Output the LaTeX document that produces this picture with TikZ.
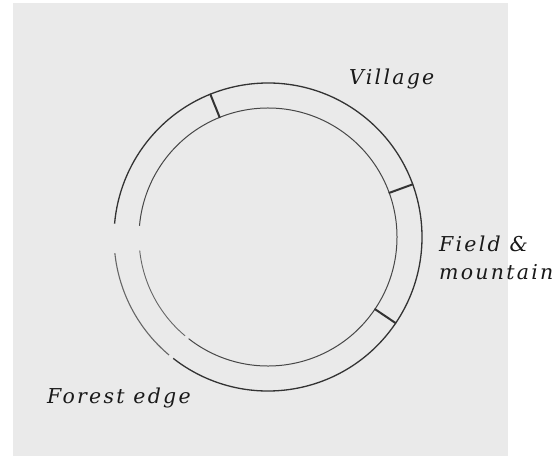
\documentclass[tikz,border=0pt]{standalone}
\usepackage{fontspec}
\newfontfamily\placefont[LetterSpace=11]{DejaVu Serif}
\definecolor{paper}{HTML}{EAEAEA}
\definecolor{pencil}{HTML}{333333}

\begin{document}
\begin{tikzpicture}[x=1pt, y=1pt,
        ring/.style={draw=pencil, line width=1.3pt},
        faintring/.style={draw=pencil!75, line width=1.1pt},
        innerring/.style={draw=pencil!90, line width=1pt},
        divider/.style={draw=pencil, line width=2pt},
        place/.style={font=\placefont\itshape\fontsize{20.5}{24}\selectfont,
            text=black!90, inner sep=0pt, anchor=base west}]
        % Paper
        \useasboundingbox (0,0) rectangle (557,459);
        \fill[paper] (13,3) rectangle (508,456);

        % Centre of both rings
        \coordinate (C) at (268,222);

        % Outer ring, open on the left
        \draw[faintring] (C) ++(186:154) arc[start angle=186, end angle=230, radius=154pt];
        \draw[ring] (C) ++(232:154) arc[start angle=232, end angle=535, radius=154pt];

        % Inner ring
        \draw[faintring, line width=0.9pt] (C) ++(186:129) arc[start angle=186, end angle=230, radius=129pt];
        \draw[innerring] (C) ++(232:129) arc[start angle=232, end angle=535, radius=129pt];

        % Dividers across the band
        \foreach \a in {112,20,-34}
            \draw[divider] (C) ++(\a:128.5) -- ++(\a:26);

        % Labels
        \node[place] (village) at (349,374) {Village};
        \node[place] (field) at (439,208) {Field \&};
        \node[place] (mountain) at (439,180) {mountain};
        \node[place] (forest) at (47,56) {Forest edge};
    \end{tikzpicture}
\end{document}
